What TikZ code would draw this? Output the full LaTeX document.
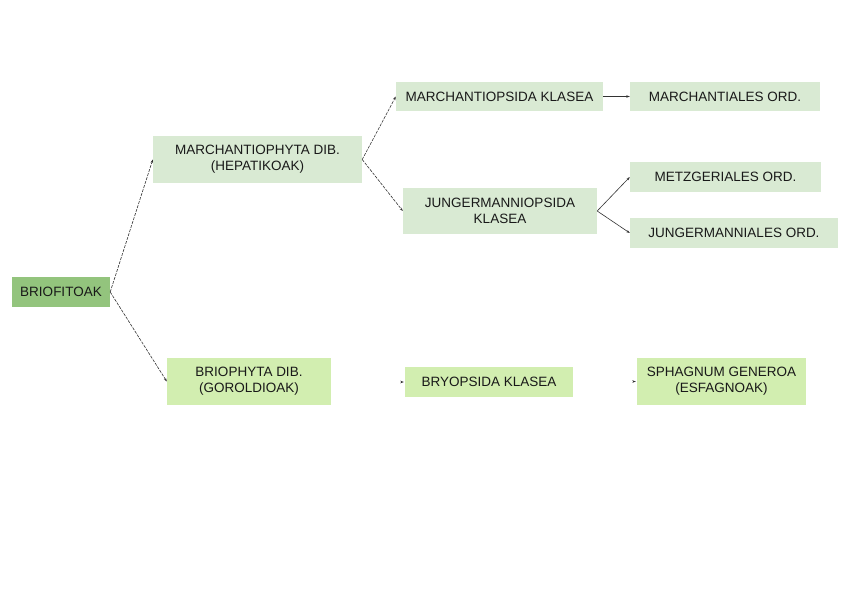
\documentclass[tikz,border=0pt]{standalone}
\usepackage{fontspec}
\setmainfont{Liberation Sans}
\usetikzlibrary{arrows.meta}
\definecolor{dkgreen}{HTML}{93C47D}
\definecolor{ltgreen}{HTML}{D9EAD3}
\definecolor{lime}{HTML}{D2EEB0}
\tikzset{
  box/.style={fill=ltgreen, draw=none, inner sep=0pt, align=center, font=\fontsize{13.5}{16}\selectfont, text=black!90},
  rootbox/.style={box, fill=dkgreen},
  limebox/.style={box, fill=lime},
  conn/.style={draw=black!80, line width=0.6pt, -{Stealth[length=3.5pt,width=2.5pt]}},
  dconn/.style={conn, dash pattern=on 3pt off 1.2pt},
}
\begin{document}
\begin{tikzpicture}[x=1pt,y=-1pt]
\useasboundingbox (0,0) rectangle (848,600);
\node[rootbox, minimum width=98pt, minimum height=30pt] (brio) at (61,292) {BRIOFITOAK};
\node[box, minimum width=209pt, minimum height=47pt] (marchphy) at (257.5,159.5) {MARCHANTIOPHYTA DIB.\\(HEPATIKOAK)};
\node[box, minimum width=207pt, minimum height=29pt] (marchops) at (499.5,96.5) {MARCHANTIOPSIDA KLASEA};
\node[box, minimum width=190pt, minimum height=29pt] (marchord) at (725,96.5) {MARCHANTIALES ORD.};
\node[box, minimum width=194pt, minimum height=46pt] (jungops) at (500,211) {JUNGERMANNIOPSIDA\\KLASEA};
\node[box, minimum width=191pt, minimum height=30pt] (metz) at (725.5,177) {METZGERIALES ORD.};
\node[box, minimum width=208pt, minimum height=30pt] (jungord) at (734,233) {JUNGERMANNIALES ORD.};
\node[limebox, minimum width=164pt, minimum height=47pt] (briophy) at (249,381.5) {BRIOPHYTA DIB.\\(GOROLDIOAK)};
\node[limebox, minimum width=168pt, minimum height=30pt] (bryops) at (489,382) {BRYOPSIDA KLASEA};
\node[limebox, minimum width=169pt, minimum height=47pt] (sphag) at (721.5,381.5) {SPHAGNUM GENEROA\\(ESFAGNOAK)};

\draw[dconn] (brio.east) -- (marchphy.west);
\draw[dconn] (brio.east) -- (briophy.west);
\draw[dconn] (marchphy.east) -- (marchops.west);
\draw[dconn] (marchphy.east) -- (jungops.west);
\draw[conn] (marchops.east) -- (marchord.west);
\draw[conn] (jungops.east) -- (metz.west);
\draw[conn] (jungops.east) -- (jungord.west);
\coordinate (bstub) at ([xshift=-4pt]bryops.west);
\coordinate (sstub) at ([xshift=-4pt]sphag.west);
\draw[conn] (bstub) -- ([xshift=-1pt]bryops.west);
\draw[conn] (sstub) -- ([xshift=-1pt]sphag.west);
\end{tikzpicture}
\end{document}
